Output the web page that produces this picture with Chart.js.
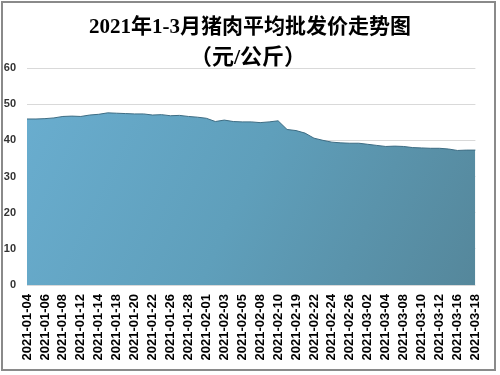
<!DOCTYPE html>
<html>
<head>
<meta charset="utf-8">
<script src="https://cdn.jsdelivr.net/npm/chart.js@4/dist/chart.umd.min.js"></script>
<style>
html,body{margin:0;padding:0;background:#fff;}
#wrap{width:500px;height:375px;position:relative;}
</style>
</head>
<body>
<div id="wrap"><canvas id="c" width="500" height="375"></canvas></div>
<script>
const titleLines = ['2021年1-3月猪肉平均批发价走势图', '（元/公斤）'];
const dates = [
  '2021-01-04','2021-01-05','2021-01-06','2021-01-07','2021-01-08',
  '2021-01-11','2021-01-12','2021-01-13','2021-01-14','2021-01-15',
  '2021-01-18','2021-01-19','2021-01-20','2021-01-21','2021-01-22',
  '2021-01-25','2021-01-26','2021-01-27','2021-01-28','2021-01-29',
  '2021-02-01','2021-02-02','2021-02-03','2021-02-04','2021-02-05',
  '2021-02-07','2021-02-08','2021-02-09','2021-02-10','2021-02-18',
  '2021-02-19','2021-02-20','2021-02-22','2021-02-23','2021-02-24',
  '2021-02-25','2021-02-26','2021-03-01','2021-03-02','2021-03-03',
  '2021-03-04','2021-03-05','2021-03-08','2021-03-09','2021-03-10',
  '2021-03-11','2021-03-12','2021-03-15','2021-03-16','2021-03-17',
  '2021-03-18'
];
const prices = [
  45.9, 45.9, 46.0, 46.2, 46.6,
  46.7, 46.6, 47.0, 47.2, 47.6,
  47.5, 47.4, 47.3, 47.3, 47.0,
  47.1, 46.8, 46.9, 46.6, 46.4,
  46.1, 45.2, 45.6, 45.2, 45.1,
  45.1, 44.9, 45.1, 45.4, 43.0,
  42.7, 42.0, 40.6, 40.0, 39.5,
  39.3, 39.2, 39.2, 38.9, 38.6,
  38.3, 38.4, 38.3, 38.0, 37.9,
  37.8, 37.8, 37.6, 37.2, 37.3,
  37.3
];
const yTicks = [0, 10, 20, 30, 40, 50, 60];

const framePlugin = {
  id: 'frame',
  afterDraw(chart) {
    const ctx = chart.ctx;
    ctx.save();
    ctx.fillStyle = '#000';
    ctx.textAlign = 'center';
    ctx.textBaseline = 'middle';
    ctx.font = 'bold 21px "Liberation Serif", "Noto Sans CJK SC"';
    ctx.fillText(titleLines[0], 250, 28);
    ctx.font = 'bold 22px "Liberation Serif", "Noto Sans CJK SC"';
    ctx.fillText(titleLines[1], 248, 58);
    ctx.strokeStyle = '#8a8a8a';
    ctx.lineWidth = 2;
    ctx.strokeRect(2, 2, 493, 368);
    ctx.restore();
  }
};

const ctx = document.getElementById('c').getContext('2d');
new Chart(ctx, {
  type: 'line',
  data: {
    labels: dates,
    datasets: [{
      data: prices,
      fill: 'origin',
      borderColor: '#3e6d84',
      borderWidth: 1,
      pointRadius: 0,
      tension: 0,
      backgroundColor(context) {
        const area = context.chart.chartArea;
        if (!area) return '#62a0bd';
        const g = context.chart.ctx.createLinearGradient(area.left, area.top, area.right, area.bottom);
        g.addColorStop(0, '#6aaed0');
        g.addColorStop(0.5, '#5f9fbb');
        g.addColorStop(1, '#55879b');
        return g;
      }
    }]
  },
  options: {
    responsive: false,
    animation: false,
    devicePixelRatio: 1,
    layout: { padding: { left: 2, right: 11, top: 68, bottom: 5 } },
    plugins: { legend: { display: false }, title: { display: false }, tooltip: { enabled: false } },
    scales: {
      x: {
        grid: { display: false, drawTicks: false },
        border: { display: false },
        ticks: {
          autoSkip: false,
          maxRotation: 90,
          minRotation: 90,
          padding: 9,
          color: '#000',
          font: { family: '"Liberation Sans", Arial', size: 13, weight: 'bold' },
          callback(v, i) { return i % 2 === 0 ? dates[i] : ''; }
        },
        afterFit(s) { s.height = 85; }
      },
      y: {
        min: 0, max: 60,
        afterBuildTicks(s) { s.ticks = yTicks.map(v => ({ value: v })); },
        grid: { color: '#d9d9d9', lineWidth: 1, drawTicks: false },
        border: { display: false },
        ticks: {
          padding: 11,
          color: '#333',
          font: { family: '"Liberation Sans", Arial', size: 11, weight: 'bold' }
        },
        afterFit(s) { s.width = 25; }
      }
    }
  },
  plugins: [framePlugin]
});
</script>
</body>
</html>
